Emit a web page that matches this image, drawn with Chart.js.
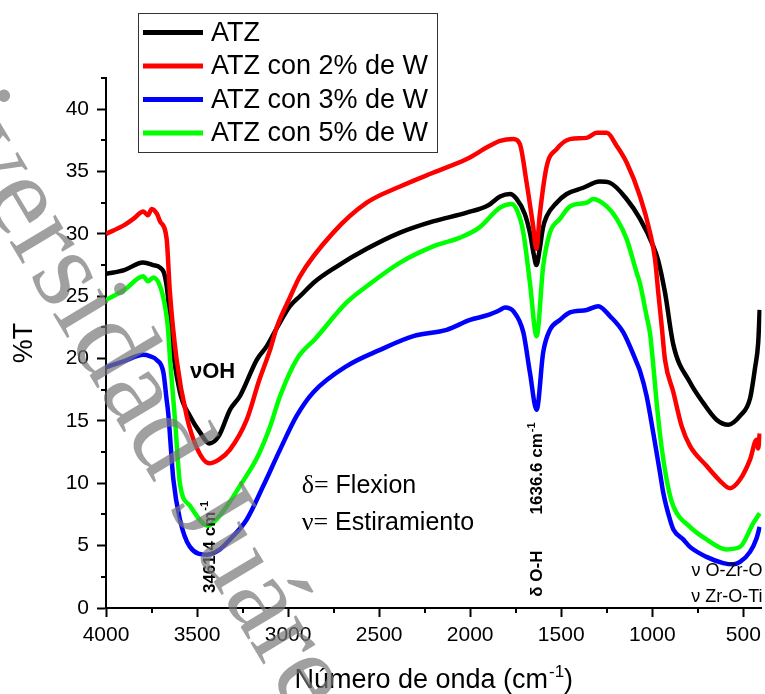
<!DOCTYPE html>
<html>
<head>
<meta charset="utf-8">
<script src="https://cdn.jsdelivr.net/npm/chart.js@4.4.1/dist/chart.umd.min.js"></script>
<style>
  body { margin: 0; background: #fff; }
  #wrap { width: 765px; height: 694px; }
</style>
</head>
<body>
<div id="wrap"><canvas id="ftir" width="765" height="694"></canvas></div>
<script>
// FTIR spectra, wavenumber (cm-1) and %T
const atzWn = [4000, 3900, 3797, 3740, 3703, 3680, 3660, 3648, 3594, 3539, 3480, 3433, 3380, 3319, 3264, 3172, 3117, 3060, 2990, 2935, 2850, 2753, 2568, 2385, 2204, 2019, 1900, 1836, 1781, 1745, 1700, 1672, 1650, 1636, 1618, 1600, 1580, 1525, 1470, 1379, 1289, 1233, 1141, 1067, 994, 968, 930, 884, 793, 720, 647, 582, 518, 463, 436, 418, 410];
const atzT = [26.8, 27.1, 27.7, 27.5, 27.3, 26.8, 25.0, 22.6, 17.3, 15.4, 14.0, 13.2, 13.8, 15.9, 17.0, 19.9, 21.0, 22.5, 24.2, 25.0, 26.2, 27.2, 28.8, 30.1, 31.0, 31.7, 32.3, 33.0, 33.2, 32.8, 31.6, 30.1, 28.3, 27.5, 28.8, 30.5, 31.4, 32.5, 33.2, 33.7, 34.2, 34.1, 32.8, 31.2, 29.0, 27.9, 25.3, 21.1, 18.1, 16.45, 15.1, 14.7, 15.4, 16.8, 19.2, 21.3, 23.9];

const w2Wn = [4000, 3900, 3850, 3795, 3770, 3749, 3720, 3703, 3667, 3649, 3612, 3557, 3500, 3433, 3380, 3319, 3227, 3160, 3099, 3060, 2990, 2935, 2752, 2568, 2385, 2204, 2019, 1900, 1836, 1763, 1727, 1690, 1654, 1636, 1618, 1580, 1525, 1452, 1360, 1305, 1250, 1195, 1140, 1067, 1012, 985, 967, 948, 930, 884, 839, 793, 702, 628, 573, 518, 463, 427, 418, 410];
const w2T = [30.0, 30.7, 31.2, 31.8, 31.5, 32.0, 31.6, 31.0, 29.6, 25.3, 19.9, 15.4, 12.8, 11.6, 11.9, 12.7, 15.1, 18.2, 20.7, 22.6, 24.9, 26.6, 30.1, 32.5, 33.8, 34.9, 36.0, 37.0, 37.45, 37.6, 37.2, 34.1, 30.6, 28.8, 31.5, 35.4, 36.8, 37.6, 37.7, 38.1, 38.1, 37.05, 35.7, 33.0, 30.1, 28.0, 25.3, 22.6, 19.9, 17.3, 14.6, 13.0, 11.4, 10.2, 9.6, 10.3, 11.9, 13.5, 12.8, 14.0];

const w3Wn = [4000, 3900, 3795, 3760, 3722, 3685, 3667, 3658, 3630, 3594, 3539, 3447, 3374, 3319, 3227, 3136, 3044, 2953, 2861, 2678, 2495, 2312, 2129, 2001, 1900, 1836, 1809, 1763, 1708, 1672, 1635, 1599, 1562, 1507, 1452, 1360, 1296, 1232, 1159, 1086, 1067, 1031, 994, 958, 939, 903, 884, 830, 793, 702, 610, 555, 518, 463, 427, 410];
const w3T = [19.3, 19.8, 20.3, 20.2, 19.9, 18.9, 16.7, 15.6, 10.3, 7.1, 4.9, 4.28, 4.7, 5.5, 7.1, 9.8, 12.7, 15.4, 17.3, 19.4, 20.7, 21.8, 22.3, 23.1, 23.5, 23.9, 24.1, 23.8, 22.1, 18.9, 15.9, 20.5, 22.3, 23.1, 23.7, 23.9, 24.2, 23.4, 22.1, 19.7, 19.0, 17.0, 14.0, 10.9, 9.2, 7.1, 6.3, 5.5, 4.9, 4.1, 3.6, 3.5, 3.7, 4.5, 5.6, 6.5];

const w5Wn = [4000, 3900, 3795, 3770, 3740, 3703, 3676, 3660, 3648, 3621, 3594, 3539, 3438, 3400, 3337, 3264, 3172, 3100, 3044, 2950, 2850, 2678, 2568, 2385, 2203, 2056, 1950, 1836, 1772, 1740, 1708, 1672, 1635, 1599, 1562, 1507, 1452, 1360, 1324, 1250, 1195, 1141, 1086, 1067, 1031, 1012, 994, 976, 958, 939, 910, 884, 793, 702, 592, 518, 445, 410];
const w5T = [24.7, 25.5, 26.6, 26.2, 26.5, 25.8, 24.2, 22.5, 19.9, 15.1, 10.0, 8.2, 6.6, 7.0, 8.15, 9.8, 12.0, 14.5, 17.0, 20.0, 21.6, 24.5, 25.8, 27.7, 29.0, 29.7, 30.5, 32.1, 32.4, 31.8, 30.1, 26.1, 21.8, 27.4, 30.1, 31.2, 32.2, 32.5, 32.8, 32.2, 31.2, 29.6, 26.9, 26.0, 23.4, 22.0, 19.4, 16.5, 14.0, 11.9, 9.5, 8.15, 6.5, 5.5, 4.7, 4.9, 6.8, 7.6];

const seriesNames = ['ATZ', 'ATZ con 2% de W', 'ATZ con 3% de W', 'ATZ con 5% de W'];
const seriesColors = ['#000000', '#ff0000', '#0000ff', '#00ff00'];

const xTicks = [500, 1000, 1500, 2000, 2500, 3000, 3500, 4000];
const xMinorTicks = [750, 1250, 1750, 2250, 2750, 3250, 3750];
const yTicks = [0, 5, 10, 15, 20, 25, 30, 35, 40];
const yMinorTicks = [2.5, 7.5, 12.5, 17.5, 22.5, 27.5, 32.5, 37.5, 42.5];

const SANS = '"Liberation Sans", Arial, sans-serif';
const SERIF = '"Liberation Serif", "Times New Roman", serif';

function toPoints(xs, ys) {
    return xs.map((x, i) => ({ x: x, y: ys[i] }));
}

// text with a small raised "-1", optionally turned to read bottom-to-top
function drawWithSup(ctx, base, sup, x, y, font, supFont, vertical) {
    ctx.save();
    ctx.translate(x, y);
    if (vertical) ctx.rotate(-Math.PI / 2);
    ctx.textBaseline = 'alphabetic';
    ctx.textAlign = 'left';
    ctx.font = font;
    ctx.fillText(base, 0, 0);
    const w = ctx.measureText(base).width;
    ctx.font = supFont;
    ctx.fillText(sup, w + 1, -parseFloat(font.match(/(\d+)px/)[1]) * 0.42);
    const w2 = ctx.measureText(sup).width;
    ctx.restore();
    return w + 1 + w2;
}

const decorations = {
    id: 'decorations',
    afterDraw(chart) {
        const ctx = chart.ctx;
        const xs = chart.scales.x;
        const ys = chart.scales.y;
        const area = chart.chartArea;
        ctx.save();

        // minor ticks
        ctx.strokeStyle = '#000';
        ctx.lineWidth = 2;
        xMinorTicks.forEach(v => {
            const px = Math.round(xs.getPixelForValue(v));
            ctx.beginPath();
            ctx.moveTo(px, area.bottom);
            ctx.lineTo(px, area.bottom + 5);
            ctx.stroke();
        });
        yMinorTicks.forEach(v => {
            const py = Math.round(ys.getPixelForValue(v));
            ctx.beginPath();
            ctx.moveTo(area.left, py);
            ctx.lineTo(area.left - 5, py);
            ctx.stroke();
        });

        // legend box
        ctx.fillStyle = '#fff';
        ctx.fillRect(138.5, 13.5, 299, 139);
        ctx.strokeStyle = '#333';
        ctx.lineWidth = 1;
        ctx.strokeRect(138.5, 13.5, 299, 139);
        const rowY = [32.5, 66, 99.5, 133];
        seriesNames.forEach((name, i) => {
            ctx.strokeStyle = seriesColors[i];
            ctx.lineWidth = 5;
            ctx.beginPath();
            ctx.moveTo(143, rowY[i]);
            ctx.lineTo(203, rowY[i]);
            ctx.stroke();
            ctx.fillStyle = '#000';
            ctx.font = '27px ' + SANS;
            ctx.textBaseline = 'middle';
            ctx.textAlign = 'left';
            ctx.fillText(name, 211, rowY[i] + 1);
        });

        ctx.fillStyle = '#000';

        // x axis title with superscript
        ctx.font = '27px ' + SANS;
        const t1 = 'Número de onda (cm';
        const wBase = ctx.measureText(t1).width;
        ctx.font = '17px ' + SANS;
        const wSup = ctx.measureText('-1').width;
        ctx.font = '27px ' + SANS;
        const wEnd = ctx.measureText(')').width;
        const total = wBase + 1 + wSup + wEnd;
        const cx = (area.left + area.right) / 2;
        const tx = cx - total / 2;
        const used = drawWithSup(ctx, t1, '-1', tx, 688, '27px ' + SANS, '17px ' + SANS, false);
        ctx.font = '27px ' + SANS;
        ctx.textBaseline = 'alphabetic';
        ctx.textAlign = 'left';
        ctx.fillText(')', tx + used, 688);

        // band annotations
        ctx.textBaseline = 'middle';
        ctx.textAlign = 'left';
        ctx.font = 'bold 22px ' + SANS;
        ctx.fillText('\u03BDOH', xs.getPixelForValue(3539), ys.getPixelForValue(18.9));

        const fx = xs.getPixelForValue(2925);
        ctx.font = '26px ' + SERIF;
        ctx.fillText('\u03B4=', fx, ys.getPixelForValue(9.8));
        let sw = ctx.measureText('\u03B4=').width;
        ctx.font = '25px ' + SANS;
        ctx.fillText(' Flexion', fx + sw, ys.getPixelForValue(9.8));
        ctx.font = '26px ' + SERIF;
        ctx.fillText('\u03BD=', fx, ys.getPixelForValue(6.8));
        sw = ctx.measureText('\u03BD=').width;
        ctx.font = '25px ' + SANS;
        ctx.fillText(' Estiramiento', fx + sw, ys.getPixelForValue(6.8));

        // vertical peak labels
        drawWithSup(ctx, '3461.4 cm', '-1', xs.getPixelForValue(3434) + 6, ys.getPixelForValue(1.2), 'bold 17px ' + SANS, 'bold 11px ' + SANS, true);
        drawWithSup(ctx, '1636.6 cm', '-1', xs.getPixelForValue(1636.6) + 6, ys.getPixelForValue(7.5), 'bold 17px ' + SANS, 'bold 11px ' + SANS, true);
        ctx.save();
        ctx.translate(xs.getPixelForValue(1636.6) + 6, ys.getPixelForValue(0.9));
        ctx.rotate(-Math.PI / 2);
        ctx.font = 'bold 17px ' + SANS;
        ctx.textBaseline = 'alphabetic';
        ctx.textAlign = 'left';
        ctx.fillText('\u03B4 O-H', 0, 0);
        ctx.restore();

        // metal-oxide bands
        ctx.font = '18px ' + SANS;
        ctx.textAlign = 'right';
        ctx.textBaseline = 'middle';
        ctx.fillText('\u03BD O-Zr-O', area.right + 1, ys.getPixelForValue(2.95));
        ctx.fillText('\u03BD Zr-O-Ti', area.right + 1, ys.getPixelForValue(0.87));

        // watermark across the figure
        ctx.font = '116px ' + SERIF;
        const ang = 59 * Math.PI / 180;
        const d = ctx.measureText('Universidad Ju').width + ctx.measureText('\u00E1').width / 2;
        ctx.translate(262 - d * Math.cos(ang), 603 - d * Math.sin(ang));
        ctx.rotate(ang);
        ctx.fillStyle = 'rgba(120,120,120,0.7)';
        ctx.textAlign = 'left';
        ctx.textBaseline = 'middle';
        ctx.fillText('Universidad Juárez del Estado de Durango', 0, 0);

        ctx.restore();
    }
};

const datasets = [
    [atzWn, atzT], [w2Wn, w2T], [w3Wn, w3T], [w5Wn, w5T]
].map((s, i) => ({
    label: seriesNames[i],
    data: toPoints(s[0], s[1]),
    borderColor: seriesColors[i],
    backgroundColor: seriesColors[i],
    borderWidth: 4.5,
    pointRadius: 0,
    showLine: true,
    fill: false,
    cubicInterpolationMode: 'monotone',
    order: 3 - i
}));

const ctx = document.getElementById('ftir').getContext('2d');
const spectrumChart = new Chart(ctx, {
    type: 'scatter',
    data: { datasets: datasets },
    options: {
        responsive: false,
        animation: false,
        layout: { padding: { top: 78, right: 3.5, left: 0, bottom: 0 } },
        plugins: {
            legend: { display: false },
            tooltip: { enabled: false }
        },
        scales: {
            x: {
                type: 'linear',
                reverse: true,
                min: 400,
                max: 4000,
                afterBuildTicks: scale => { scale.ticks = xTicks.map(v => ({ value: v })); },
                afterFit: scale => { scale.height = 86; },
                ticks: {
                    color: '#000',
                    font: { family: SANS, size: 21 },
                    padding: 6,
                    maxRotation: 0,
                    callback: v => String(v)
                },
                grid: { display: true, drawOnChartArea: false, drawTicks: true, tickLength: 9, tickWidth: 2, tickColor: '#000' },
                border: { display: true, color: '#000', width: 2 }
            },
            y: {
                type: 'linear',
                min: 0,
                max: 42.5,
                afterBuildTicks: scale => { scale.ticks = yTicks.map(v => ({ value: v })); },
                afterFit: scale => { scale.width = 106; },
                ticks: {
                    color: '#000',
                    font: { family: SANS, size: 21 },
                    padding: 8,
                    callback: v => String(v)
                },
                grid: { display: true, drawOnChartArea: false, drawTicks: true, tickLength: 9, tickWidth: 2, tickColor: '#000' },
                border: { display: true, color: '#000', width: 2 },
                title: {
                    display: true,
                    text: '%T',
                    color: '#000',
                    font: { family: SANS, size: 27 },
                    padding: { top: 8, bottom: 0 }
                }
            }
        }
    },
    plugins: [decorations]
});
</script>
</body>
</html>
